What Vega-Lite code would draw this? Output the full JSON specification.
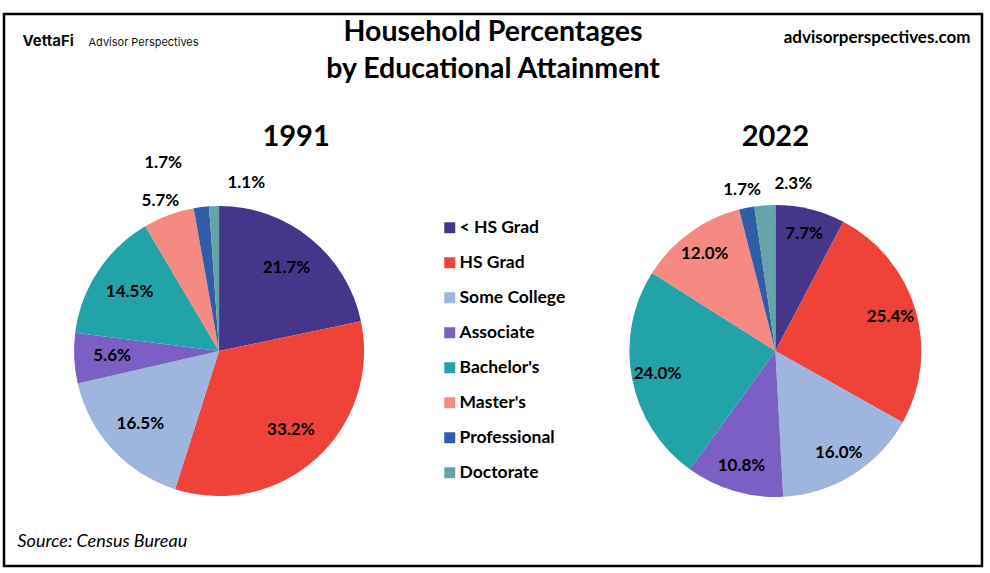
{
  "$schema": "https://vega.github.io/schema/vega-lite/v6.json",
  "width": 990,
  "height": 573,
  "autosize": {"type": "fit", "contains": "padding"},
  "padding": {"left": 4, "top": 5, "right": 8, "bottom": 7},
  "background": "white",
  "config": {
    "view": {"stroke": "#000000", "strokeWidth": 2.5},
    "font": "Lato",
    "text": {"font": "Lato", "fontSize": 17, "fontWeight": "bold", "color": "#000000", "align": "center", "baseline": "middle"}
  },
  "title": {
    "text": ["Household Percentages", "by Educational Attainment"],
    "font": "Lato",
    "fontSize": 28.5,
    "fontWeight": "bold",
    "color": "#000000",
    "anchor": "middle",
    "lineHeight": 37,
    "offset": -78
  },
  "data": {
    "values": [
      {"year": "1991", "category": "< HS Grad", "share": 0.217, "order": 1},
      {"year": "1991", "category": "HS Grad", "share": 0.332, "order": 2},
      {"year": "1991", "category": "Some College", "share": 0.165, "order": 3},
      {"year": "1991", "category": "Associate", "share": 0.056, "order": 4},
      {"year": "1991", "category": "Bachelor's", "share": 0.145, "order": 5},
      {"year": "1991", "category": "Master's", "share": 0.057, "order": 6},
      {"year": "1991", "category": "Professional", "share": 0.017, "order": 7},
      {"year": "1991", "category": "Doctorate", "share": 0.011, "order": 8},
      {"year": "2022", "category": "< HS Grad", "share": 0.077, "order": 1},
      {"year": "2022", "category": "HS Grad", "share": 0.254, "order": 2},
      {"year": "2022", "category": "Some College", "share": 0.160, "order": 3},
      {"year": "2022", "category": "Associate", "share": 0.108, "order": 4},
      {"year": "2022", "category": "Bachelor's", "share": 0.240, "order": 5},
      {"year": "2022", "category": "Master's", "share": 0.120, "order": 6},
      {"year": "2022", "category": "Professional", "share": 0.017, "order": 7},
      {"year": "2022", "category": "Doctorate", "share": 0.023, "order": 8}
    ]
  },
  "layer": [
    {
      "encoding": {
        "x": {
          "field": "year", "type": "nominal",
          "scale": {"type": "point", "domain": ["1991", "2022"], "padding": 0.379, "align": 0.51},
          "axis": {
            "domain": false, "ticks": false, "labels": false, "grid": false,
            "title": "Source: Census Bureau",
            "titleX": 13, "titleY": -20, "titleAlign": "left", "titleAnchor": null,
            "titleBaseline": "alphabetic", "titleAngle": 0,
            "titleFont": "Lato", "titleFontSize": 18, "titleFontStyle": "italic", "titleFontWeight": "normal", "titleColor": "#000000"
          }
        },
        "y": {
          "datum": "pie", "type": "nominal",
          "scale": {"type": "point", "padding": 0, "align": 0.6105},
          "axis": {
            "domain": false, "ticks": false, "labels": false, "grid": false,
            "title": "VettaFi",
            "titleX": 18, "titleY": 31, "titleAlign": "left", "titleAnchor": null,
            "titleBaseline": "alphabetic", "titleAngle": 0,
            "titleFont": "Inter", "titleFontSize": 15, "titleFontWeight": "bold", "titleColor": "#111111"
          }
        }
      },
      "layer": [
        {
          "transform": [{"filter": "datum.year === '1991'"}],
          "mark": {"type": "arc", "outerRadius": 145},
          "encoding": {
            "theta": {"field": "share", "type": "quantitative", "stack": true},
            "order": {"field": "order", "type": "quantitative"},
            "color": {
              "field": "category", "type": "nominal",
              "scale": {
                "domain": ["< HS Grad", "HS Grad", "Some College", "Associate", "Bachelor's", "Master's", "Professional", "Doctorate"],
                "range": ["#46368b", "#ef4339", "#9eb5de", "#7b5fc5", "#21a3a7", "#f48a81", "#2f5ea7", "#64a4a8"]
              },
              "legend": {
                "orient": "none", "legendX": 437, "legendY": 205, "title": null, "padding": 0,
                "symbolType": "square", "symbolSize": 121, "symbolStrokeWidth": 0,
                "labelFont": "Lato", "labelFontSize": 17.5, "labelFontWeight": "bold", "labelColor": "#000000",
                "labelOffset": 1, "rowPadding": 16
              }
            }
          }
        },
        {
          "transform": [{"filter": "datum.year === '2022'"}],
          "mark": {"type": "arc", "outerRadius": 146},
          "encoding": {
            "theta": {"field": "share", "type": "quantitative", "stack": true},
            "order": {"field": "order", "type": "quantitative"},
            "color": {
              "field": "category", "type": "nominal",
              "scale": {
                "domain": ["< HS Grad", "HS Grad", "Some College", "Associate", "Bachelor's", "Master's", "Professional", "Doctorate"],
                "range": ["#46368b", "#ef4339", "#9eb5de", "#7b5fc5", "#21a3a7", "#f48a81", "#2f5ea7", "#64a4a8"]
              },
              "legend": {
                "orient": "none", "legendX": 437, "legendY": 205, "title": null, "padding": 0,
                "symbolType": "square", "symbolSize": 121, "symbolStrokeWidth": 0,
                "labelFont": "Lato", "labelFontSize": 17.5, "labelFontWeight": "bold", "labelColor": "#000000",
                "labelOffset": 1, "rowPadding": 16
              }
            }
          }
        },
        {
          "transform": [{"filter": "datum.year === '1991'"}],
          "mark": {"type": "text", "radius": 107, "clip": true},
          "encoding": {
            "theta": {"field": "share", "type": "quantitative", "stack": true},
            "order": {"field": "order", "type": "quantitative"},
            "text": {"field": "share", "type": "quantitative", "format": ".1%", "condition": {"test": "datum.order >= 6", "value": ""}}
          }
        },
        {
          "transform": [{"filter": "datum.year === '2022'"}],
          "mark": {"type": "text", "radius": 120, "clip": true},
          "encoding": {
            "theta": {"field": "share", "type": "quantitative", "stack": true},
            "order": {"field": "order", "type": "quantitative"},
            "text": {"field": "share", "type": "quantitative", "format": ".1%", "condition": {"test": "datum.order >= 7", "value": ""}}
          }
        },
        {
          "transform": [{"filter": "datum.year === '1991'"}],
          "mark": {"type": "text", "radius": 160, "dx": -3, "clip": true},
          "encoding": {
            "theta": {"field": "share", "type": "quantitative", "stack": true},
            "order": {"field": "order", "type": "quantitative"},
            "text": {"field": "share", "type": "quantitative", "format": ".1%", "condition": {"test": "datum.order !== 6", "value": ""}}
          }
        },
        {
          "transform": [{"filter": "datum.year === '1991'"}],
          "mark": {"type": "text", "radius": 188, "dx": -33, "dy": -1, "clip": true},
          "encoding": {
            "theta": {"field": "share", "type": "quantitative", "stack": true},
            "order": {"field": "order", "type": "quantitative"},
            "text": {"field": "share", "type": "quantitative", "format": ".1%", "condition": {"test": "datum.order !== 7", "value": ""}}
          }
        },
        {
          "transform": [{"filter": "datum.year === '1991'"}],
          "mark": {"type": "text", "radius": 168, "dx": 33, "clip": true},
          "encoding": {
            "theta": {"field": "share", "type": "quantitative", "stack": true},
            "order": {"field": "order", "type": "quantitative"},
            "text": {"field": "share", "type": "quantitative", "format": ".1%", "condition": {"test": "datum.order !== 8", "value": ""}}
          }
        },
        {
          "transform": [{"filter": "datum.year === '2022'"}],
          "mark": {"type": "text", "radius": 164, "dx": -1, "clip": true},
          "encoding": {
            "theta": {"field": "share", "type": "quantitative", "stack": true},
            "order": {"field": "order", "type": "quantitative"},
            "text": {"field": "share", "type": "quantitative", "format": ".1%", "condition": {"test": "datum.order !== 7", "value": ""}}
          }
        },
        {
          "transform": [{"filter": "datum.year === '2022'"}],
          "mark": {"type": "text", "radius": 167, "dx": 30, "clip": true},
          "encoding": {
            "theta": {"field": "share", "type": "quantitative", "stack": true},
            "order": {"field": "order", "type": "quantitative"},
            "text": {"field": "share", "type": "quantitative", "format": ".1%", "condition": {"test": "datum.order !== 8", "value": ""}}
          }
        },
        {
          "transform": [{"filter": "datum.year === '1991' && datum.order === 1"}],
          "mark": {"type": "text", "fontSize": 29, "dx": 77, "dy": -214},
          "encoding": {"text": {"field": "year", "type": "nominal"}}
        },
        {
          "transform": [{"filter": "datum.year === '2022' && datum.order === 1"}],
          "mark": {"type": "text", "fontSize": 29, "dx": 0, "dy": -214},
          "encoding": {"text": {"field": "year", "type": "nominal"}}
        }
      ],
      "resolve": {"scale": {"theta": "independent"}}
    },
    {
      "data": {"values": [{"note": "header"}]},
      "mark": {"type": "text"},
      "encoding": {
        "x": {
          "datum": 0, "type": "quantitative",
          "axis": {
            "orient": "top", "domain": false, "ticks": false, "labels": false, "grid": false,
            "title": "advisorperspectives.com",
            "titleX": 966, "titleY": 28, "titleAlign": "right", "titleAnchor": null,
            "titleBaseline": "alphabetic", "titleAngle": 0,
            "titleFont": "Lato", "titleFontSize": 17, "titleFontWeight": "bold", "titleColor": "#000000"
          }
        },
        "y": {
          "datum": 0, "type": "quantitative",
          "axis": {
            "orient": "right", "domain": false, "ticks": false, "labels": false, "grid": false,
            "title": "Advisor Perspectives",
            "titleX": -894, "titleY": 31, "titleAlign": "left", "titleAnchor": null,
            "titleBaseline": "alphabetic", "titleAngle": 0,
            "titleFont": "Inter", "titleFontSize": 11, "titleFontWeight": "normal", "titleColor": "#111111"
          }
        },
        "text": {"value": ""}
      }
    }
  ],
  "resolve": {"scale": {"x": "independent", "y": "independent"}}
}
